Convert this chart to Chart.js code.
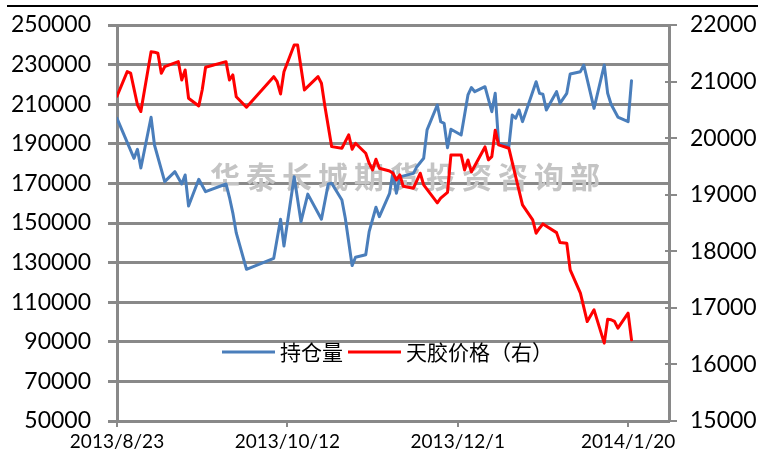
<!DOCTYPE html>
<html><head><meta charset="utf-8">
<script src="https://cdn.jsdelivr.net/npm/chart.js@4.4.1/dist/chart.umd.min.js"></script>
<style>
html,body{margin:0;padding:0;background:#fff;}
#wrap{position:relative;width:758px;height:459px;overflow:hidden;}
canvas{position:absolute;left:0;top:0;}
#topline{position:absolute;left:7px;right:0;top:5px;height:2px;background:#000;}
</style></head><body>
<div id="wrap"><canvas id="c" width="758" height="459"></canvas><div id="topline"></div></div>
<script>
// ---- data ----
const startDate = '2013-08-23';
const xTickDays = [0, 50, 100, 150];
const xTickLabels = ['2013/8/23', '2013/10/12', '2013/12/1', '2014/1/20'];
const seriesNames = ['持仓量', '天胶价格（右）'];
const watermarkText = '华泰长城期货投资咨询部';

const oiDates = ['2013-08-23','2013-08-28','2013-08-29','2013-08-30','2013-09-02','2013-09-03','2013-09-06','2013-09-09','2013-09-11','2013-09-12','2013-09-13','2013-09-16','2013-09-18','2013-09-24','2013-09-25','2013-09-26','2013-09-27','2013-09-30','2013-10-08','2013-10-10','2013-10-11','2013-10-14','2013-10-16','2013-10-18','2013-10-22','2013-10-24','2013-10-25','2013-10-28','2013-10-29','2013-10-31','2013-11-01','2013-11-04','2013-11-05','2013-11-07','2013-11-08','2013-11-11','2013-11-12','2013-11-13','2013-11-14','2013-11-18','2013-11-19','2013-11-21','2013-11-22','2013-11-25','2013-11-26','2013-11-27','2013-11-28','2013-11-29','2013-12-02','2013-12-04','2013-12-05','2013-12-06','2013-12-09','2013-12-11','2013-12-12','2013-12-13','2013-12-16','2013-12-17','2013-12-18','2013-12-19','2013-12-20','2013-12-24','2013-12-25','2013-12-26','2013-12-27','2013-12-30','2013-12-31','2014-01-02','2014-01-03','2014-01-06','2014-01-07','2014-01-10','2014-01-13','2014-01-14','2014-01-15','2014-01-17','2014-01-20','2014-01-21'];
const oiValues = [202880,182680,187230,177800,203390,189400,170870,175920,169700,174250,158600,172080,165820,169700,163000,155000,145000,126630,132180,151880,138400,173400,150650,164600,151880,169700,170050,161630,152380,128500,132690,134000,145630,157940,153200,165000,175900,165000,173300,175080,178440,182680,197000,209600,201180,200340,188000,197320,194450,214650,218400,216330,218840,206220,215490,190240,188550,204550,202900,207080,201180,221370,215490,215000,207080,216330,210460,215490,225250,226420,229800,207930,229800,215500,210000,203500,201200,221900];

const priceDates = ['2013-08-23','2013-08-26','2013-08-27','2013-08-29','2013-08-30','2013-09-02','2013-09-03','2013-09-04','2013-09-05','2013-09-06','2013-09-10','2013-09-11','2013-09-12','2013-09-13','2013-09-16','2013-09-17','2013-09-18','2013-09-24','2013-09-25','2013-09-26','2013-09-27','2013-09-30','2013-10-08','2013-10-09','2013-10-10','2013-10-11','2013-10-14','2013-10-15','2013-10-17','2013-10-21','2013-10-22','2013-10-23','2013-10-25','2013-10-28','2013-10-30','2013-10-31','2013-11-01','2013-11-04','2013-11-05','2013-11-06','2013-11-07','2013-11-08','2013-11-11','2013-11-12','2013-11-13','2013-11-14','2013-11-15','2013-11-18','2013-11-20','2013-11-21','2013-11-25','2013-11-26','2013-11-28','2013-11-29','2013-12-02','2013-12-03','2013-12-04','2013-12-05','2013-12-09','2013-12-10','2013-12-11','2013-12-12','2013-12-13','2013-12-16','2013-12-18','2013-12-20','2013-12-23','2013-12-24','2013-12-25','2013-12-26','2013-12-30','2013-12-31','2014-01-02','2014-01-03','2014-01-06','2014-01-08','2014-01-10','2014-01-13','2014-01-14','2014-01-15','2014-01-16','2014-01-17','2014-01-20','2014-01-21'];
const priceValues = [20740,21175,21150,20590,20470,21528,21520,21500,21147,21263,21352,21028,21205,20705,20569,20852,21252,21352,21028,21117,20733,20546,21087,20998,20781,21175,21647,21647,20852,21087,20970,20569,19850,19822,20057,19804,19910,19733,19557,19438,19627,19468,19420,19380,19262,19350,19150,19115,19380,19173,18855,18938,19040,19703,19703,19438,19615,19403,19845,19615,19673,20140,19880,19822,19320,18820,18555,18320,18408,18484,18330,18154,18143,17671,17260,16758,16965,16376,16800,16790,16760,16641,16906,16435];

// ---- helpers ----
function dayOffset(s) {
  const [y, m, d] = s.split('-').map(Number);
  const [y0, m0, d0] = startDate.split('-').map(Number);
  return Math.round((Date.UTC(y, m - 1, d) - Date.UTC(y0, m0 - 1, d0)) / 86400000);
}
const toPoints = (dates, vals) => dates.map((d, i) => ({ x: dayOffset(d), y: vals[i] }));

const GRID = '#898989';
const TICK_FONT = { family: 'Lato', size: 23, lineHeight: 0.6 };

const deco = {
  id: 'deco',
  beforeDatasetsDraw(chart) {
    const ctx = chart.ctx;
    ctx.save();
    ctx.fillStyle = '#c4c4c4';
    ctx.font = 'bold 30px "Noto Sans CJK SC"';
    ctx.textBaseline = 'middle';
    ctx.textAlign = 'left';
    const chars = Array.from(watermarkText);
    const pitch = 36, x0 = 210, y0 = 177;
    chars.forEach((ch, i) => ctx.fillText(ch, x0 + i * pitch, y0));
    ctx.restore();
  },
  afterDatasetsDraw(chart) {
    const ctx = chart.ctx, a = chart.chartArea;
    ctx.save();
    // inner part of right-axis cross ticks
    const r = chart.scales.y1;
    ctx.strokeStyle = GRID; ctx.lineWidth = 2;
    r.ticks.forEach(t => {
      const y = Math.round(r.getPixelForValue(t.value));
      ctx.beginPath(); ctx.moveTo(a.right - 4, y); ctx.lineTo(a.right, y); ctx.stroke();
    });
    // legend
    let x = 222; const y = 352;
    ctx.font = '21px "Noto Sans CJK SC"';
    ctx.textBaseline = 'middle'; ctx.textAlign = 'left';
    chart.data.datasets.forEach(ds => {
      ctx.strokeStyle = ds.borderColor; ctx.lineWidth = 3; ctx.lineCap = 'butt';
      ctx.beginPath(); ctx.moveTo(x, y); ctx.lineTo(x + 53, y); ctx.stroke();
      x += 58;
      ctx.fillStyle = '#000';
      ctx.fillText(ds.label, x, y);
      x += ctx.measureText(ds.label).width + 5;
    });
    ctx.restore();
  }
};

new Chart(document.getElementById('c'), {
  type: 'line',
  data: {
    datasets: [
      { label: seriesNames[0], data: toPoints(oiDates, oiValues), yAxisID: 'y', borderColor: '#4a7ebb', borderWidth: 3, pointRadius: 0, tension: 0, order: 1, borderJoinStyle: 'round', borderCapStyle: 'round' },
      { label: seriesNames[1], data: toPoints(priceDates, priceValues), yAxisID: 'y1', borderColor: '#ff0000', borderWidth: 3, pointRadius: 0, tension: 0, order: 0, borderJoinStyle: 'round', borderCapStyle: 'round' }
    ]
  },
  options: {
    responsive: false, animation: false, devicePixelRatio: 1,
    layout: { padding: { top: 25, left: 0, right: 0, bottom: 0 } },
    plugins: { legend: { display: false }, tooltip: { enabled: false } },
    scales: {
      x: {
        type: 'linear', position: 'bottom', min: 0, max: 162,
        ticks: { stepSize: 50, includeBounds: false, autoSkip: false, maxRotation: 0, color: '#000', padding: 3,
          font: { family: 'Lato', size: 19 },
          callback: v => { const i = xTickDays.indexOf(v); return i >= 0 ? xTickLabels[i] : ''; } },
        grid: { display: true, drawOnChartArea: false, tickLength: 6, color: GRID, lineWidth: 2 },
        border: { display: true, color: GRID, width: 3 },
        afterFit: s => { s.height = 38; }
      },
      y: {
        position: 'left', min: 50000, max: 250000,
        ticks: { stepSize: 20000, color: '#000', padding: 17, font: TICK_FONT, callback: v => String(v) },
        grid: { color: GRID, lineWidth: 3, tickLength: 9 },
        border: { display: true, color: GRID, width: 3 },
        afterFit: s => { s.width = 117; }
      },
      y1: {
        position: 'right', min: 15000, max: 22000,
        ticks: { stepSize: 1000, color: '#000', padding: 13, font: TICK_FONT, callback: v => String(v) },
        grid: { drawOnChartArea: false, color: GRID, lineWidth: 2, tickLength: 8 },
        border: { display: true, color: GRID, width: 3 },
        afterFit: s => { s.width = 89; }
      }
    }
  },
  plugins: [deco]
});
</script>
</body></html>
